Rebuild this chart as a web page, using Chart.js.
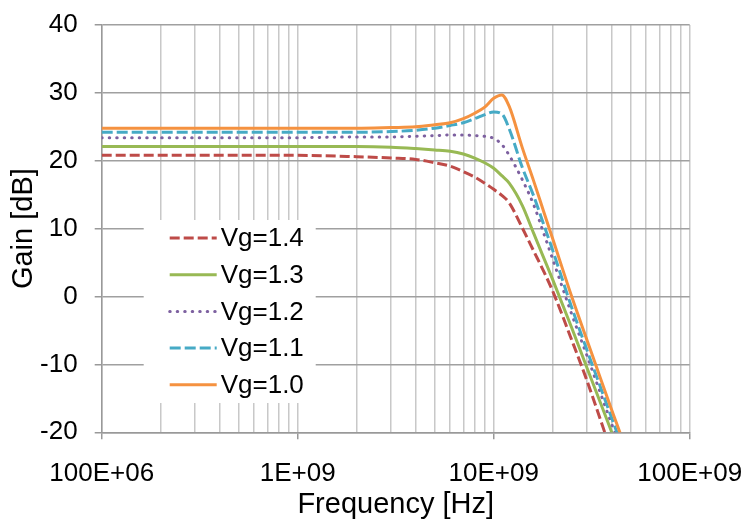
<!DOCTYPE html>
<html>
<head>
<meta charset="utf-8">
<script src="https://cdn.jsdelivr.net/npm/chart.js@4.4.1/dist/chart.umd.min.js"></script>
<style>
  html, body { margin: 0; padding: 0; background: #fff; }
  #wrap { width: 749px; height: 522px; }
</style>
</head>
<body>
<div id="wrap"><canvas id="gainChart" width="749" height="522"></canvas></div>
<script>
// frequency points [Hz]
const freqHz = [1e8, 5e8, 1e9, 2e9, 3e9, 4e9, 5e9, 6e9, 7e9, 8e9, 9e9, 1e10, 1.1e10, 1.2e10,
  1.4e10, 1.6e10, 1.8e10, 2e10, 2.5e10, 3e10, 3.5e10, 4e10, 4.5e10, 5e10];

// gain [dB] per gate voltage
const gainVg14 = [20.8, 20.8, 20.8, 20.6, 20.4, 20.2, 19.7, 19.2, 18.4, 17.6, 16.7, 15.8, 14.9, 13.8,
  10.1, 6.7, 3.7, 0.8, -6.4, -12.5, -18.1, -23, -27, -31];
const gainVg13 = [22.1, 22.1, 22.1, 22.1, 22.0, 21.8, 21.6, 21.4, 21.0, 20.4, 19.7, 18.9, 17.8, 16.7,
  13.4, 9.3, 5.7, 2.5, -4.6, -10.6, -15.6, -20.0, -23.9, -28];
const gainVg12 = [23.4, 23.4, 23.4, 23.5, 23.5, 23.6, 23.7, 23.8, 23.8, 23.7, 23.6, 23.3, 22.4, 20.8,
  17.2, 13.5, 9.3, 5.5, -2.6, -8.8, -14.2, -18.8, -22.9, -27];
const gainVg11 = [24.2, 24.2, 24.2, 24.2, 24.3, 24.5, 24.8, 25.2, 25.6, 26.2, 26.8, 27.2, 26.9, 24.7,
  19.0, 14.8, 10.6, 6.8, -1.6, -8.0, -13.3, -17.9, -22, -26];
const gainVg10 = [24.8, 24.8, 24.8, 24.8, 24.9, 25.0, 25.3, 25.6, 26.2, 27.0, 27.9, 29.2, 29.7, 28.0,
  21.9, 17.0, 12.5, 8.5, 0.0, -6.5, -12.0, -16.7, -20.8, -25];

const seriesNames = ['Vg=1.4', 'Vg=1.3', 'Vg=1.2', 'Vg=1.1', 'Vg=1.0'];
const seriesGain = [gainVg14, gainVg13, gainVg12, gainVg11, gainVg10];

const xTickValues = [1e8, 1e9, 1e10, 1e11];
const xTickLabels = ['100E+06', '1E+09', '10E+09', '100E+09'];

const colors = ['#BE4B48', '#98B954', '#7D60A0', '#46AAC5', '#F59240'];
const dashes = [[10, 4], [], [0.5, 7], [11, 4], []];
const caps = ['butt', 'butt', 'round', 'butt', 'butt'];

const FONT = "'Liberation Sans', Arial, sans-serif";

// all 1..9 x 10^k grid values
const gridValues = [];
for (let e = 8; e <= 10; e++) {
  for (let m = 1; m <= 9; m++) gridValues.push(m * Math.pow(10, e));
}
gridValues.push(1e11);

function decadeIndex(v) {
  return xTickValues.findIndex(t => Math.abs(v / t - 1) < 1e-6);
}

const legendBox = {
  id: 'legendBox',
  afterDraw(chart) {
    const { ctx, chartArea } = chart;
    const left = chartArea.left + 42;
    const top = chartArea.top + 195;
    ctx.save();
    ctx.fillStyle = '#fff';
    ctx.fillRect(left, top, 172, 183);
    ctx.font = '26px ' + FONT;
    ctx.textBaseline = 'middle';
    ctx.textAlign = 'left';
    chart.data.datasets.forEach((ds, i) => {
      const y = top + 18 + i * 36.7;
      ctx.strokeStyle = ds.borderColor;
      ctx.lineWidth = 3;
      ctx.lineCap = ds.borderCapStyle;
      ctx.setLineDash(ds.borderDash);
      ctx.beginPath();
      ctx.moveTo(left + 26, y);
      ctx.lineTo(left + 73, y);
      ctx.stroke();
      ctx.setLineDash([]);
      ctx.fillStyle = '#000';
      ctx.fillText(ds.label, left + 77, y + 1);
    });
    ctx.restore();
  }
};

new Chart(document.getElementById('gainChart'), {
  type: 'line',
  data: {
    datasets: seriesNames.map((name, i) => ({
      label: name,
      data: freqHz.map((f, k) => ({ x: f, y: seriesGain[i][k] })),
      borderColor: colors[i],
      backgroundColor: colors[i],
      borderWidth: 3,
      borderDash: dashes[i],
      borderCapStyle: caps[i],
      pointRadius: 0,
      cubicInterpolationMode: 'monotone',
      order: seriesNames.length - 1 - i,
    })),
  },
  options: {
    responsive: false,
    animation: false,
    layout: { padding: { top: 25, right: 59.3, left: 0, bottom: 0 } },
    plugins: { legend: { display: false }, tooltip: { enabled: false } },
    scales: {
      x: {
        type: 'logarithmic',
        min: 1e8,
        max: 1e11,
        afterBuildTicks: (scale) => { scale.ticks = gridValues.map(v => ({ value: v })); },
        afterFit: (scale) => {
          scale.height = 89.7;
          scale.paddingLeft = 0;
          scale.paddingRight = 0;
        },
        ticks: {
          autoSkip: false,
          maxRotation: 0,
          minRotation: 0,
          padding: 19,
          color: '#000',
          font: { family: FONT, size: 26 },
          callback: (v) => {
            const i = decadeIndex(v);
            return i >= 0 ? xTickLabels[i] : '';
          },
        },
        grid: {
          color: '#c8c8c8',
          lineWidth: 1.5,
          tickLength: 7,
          tickColor: (ctx) => (ctx.tick && decadeIndex(ctx.tick.value) >= 0 ? '#999' : 'rgba(0,0,0,0)'),
        },
        border: { color: '#999', width: 1.5 },
        title: {
          display: true,
          text: 'Frequency [Hz]',
          color: '#000',
          font: { family: FONT, size: 29 },
          padding: { top: 0, bottom: 0 },
        },
      },
      y: {
        min: -20,
        max: 40,
        afterFit: (scale) => {
          scale.width = 101.7;
          scale.paddingTop = 0;
          scale.paddingBottom = 0;
        },
        ticks: {
          stepSize: 10,
          padding: 17,
          color: '#000',
          font: { family: FONT, size: 26 },
        },
        grid: { color: '#a0a0a0', lineWidth: 1.5, tickLength: 7, tickColor: '#999' },
        border: { color: '#999', width: 1.5 },
        title: {
          display: true,
          text: 'Gain [dB]',
          color: '#000',
          font: { family: FONT, size: 29 },
          padding: { top: 7, bottom: 0 },
        },
      },
    },
  },
  plugins: [legendBox],
});
</script>
</body>
</html>
